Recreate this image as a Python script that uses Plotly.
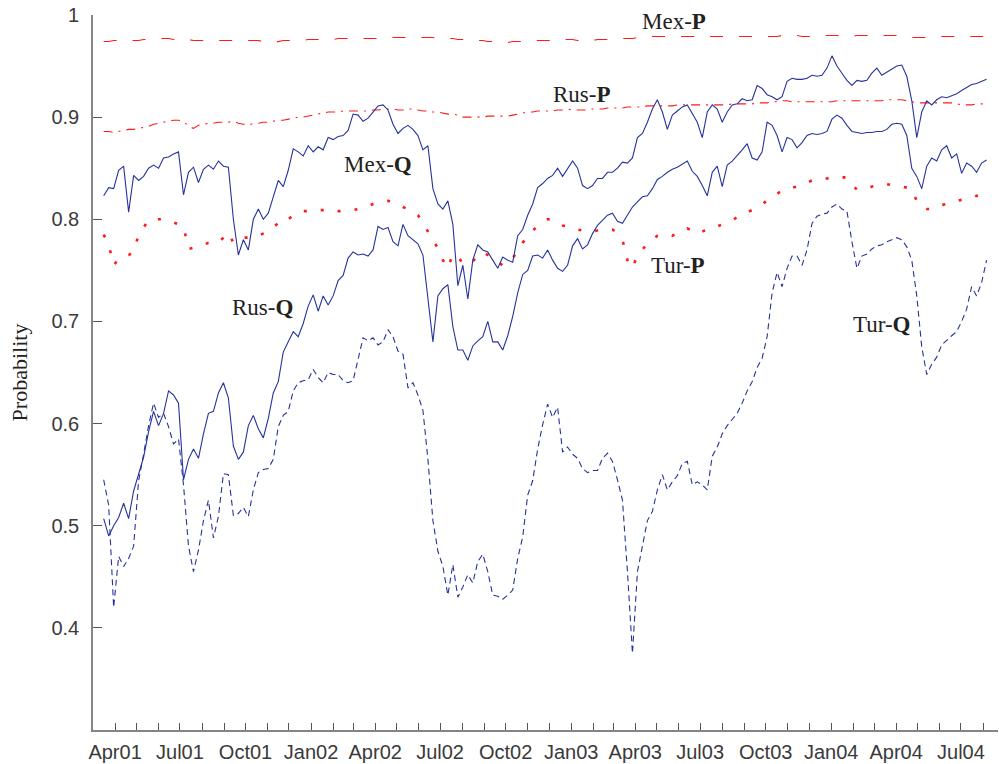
import pandas as pd
import plotly.graph_objects as go

# Weekly observation dates (Fridays), mid-March 2001 to early August 2004
dates = pd.date_range("2001-03-16", periods=178, freq="7D")

mex_q = [
    0.823, 0.831, 0.830, 0.848, 0.852, 0.807, 0.843, 0.838, 0.842, 0.850,
    0.853, 0.850, 0.860, 0.861, 0.864, 0.866, 0.824, 0.846, 0.851, 0.836,
    0.849, 0.853, 0.849, 0.857, 0.852, 0.851, 0.800, 0.765, 0.780, 0.770,
    0.800, 0.810, 0.800, 0.806, 0.822, 0.838, 0.832, 0.848, 0.869, 0.866,
    0.862, 0.872, 0.866, 0.871, 0.868, 0.880, 0.878, 0.881, 0.882, 0.887,
    0.903, 0.902, 0.896, 0.899, 0.905, 0.911, 0.912, 0.907, 0.893, 0.884,
    0.889, 0.892, 0.888, 0.882, 0.868, 0.872, 0.830, 0.815, 0.810, 0.818,
    0.795, 0.735, 0.755, 0.722, 0.760, 0.775, 0.770, 0.768, 0.760, 0.752,
    0.763, 0.760, 0.758, 0.784, 0.790, 0.804, 0.815, 0.831, 0.835, 0.840,
    0.843, 0.850, 0.842, 0.850, 0.857, 0.850, 0.833, 0.830, 0.833, 0.840,
    0.840, 0.846, 0.846, 0.850, 0.856, 0.855, 0.860, 0.880, 0.884, 0.895,
    0.908, 0.917, 0.905, 0.888, 0.902, 0.906, 0.910, 0.912, 0.903, 0.895,
    0.880, 0.905, 0.912, 0.908, 0.895, 0.905, 0.912, 0.913, 0.918, 0.916,
    0.917, 0.931, 0.928, 0.922, 0.920, 0.917, 0.920, 0.935, 0.938, 0.937,
    0.937, 0.938, 0.941, 0.940, 0.941, 0.948, 0.960, 0.950, 0.943, 0.936,
    0.931, 0.936, 0.935, 0.936, 0.943, 0.948, 0.941, 0.944, 0.947, 0.950,
    0.951, 0.940, 0.916, 0.880, 0.905, 0.916, 0.912, 0.917, 0.920, 0.919,
    0.921, 0.923, 0.926, 0.929, 0.932, 0.933, 0.935, 0.937,
]

rus_q = [
    0.507, 0.490, 0.500, 0.508, 0.522, 0.507, 0.534, 0.550, 0.567, 0.592,
    0.612, 0.598, 0.610, 0.632, 0.628, 0.620, 0.545, 0.565, 0.575, 0.566,
    0.590, 0.610, 0.612, 0.630, 0.640, 0.625, 0.578, 0.565, 0.572, 0.598,
    0.608, 0.595, 0.586, 0.605, 0.630, 0.641, 0.670, 0.680, 0.690, 0.685,
    0.698, 0.715, 0.726, 0.710, 0.725, 0.716, 0.725, 0.740, 0.745, 0.762,
    0.768, 0.765, 0.766, 0.764, 0.770, 0.793, 0.790, 0.792, 0.778, 0.774,
    0.795, 0.784, 0.780, 0.776, 0.765, 0.720, 0.680, 0.725, 0.732, 0.736,
    0.695, 0.672, 0.672, 0.662, 0.676, 0.681, 0.685, 0.700, 0.680, 0.680,
    0.672, 0.686, 0.705, 0.728, 0.746, 0.750, 0.764, 0.765, 0.762, 0.770,
    0.760, 0.752, 0.749, 0.755, 0.774, 0.781, 0.771, 0.775, 0.786, 0.794,
    0.799, 0.804, 0.806, 0.798, 0.796, 0.804, 0.812, 0.817, 0.822, 0.823,
    0.830, 0.839, 0.842, 0.846, 0.849, 0.851, 0.854, 0.857, 0.847, 0.842,
    0.833, 0.823, 0.846, 0.852, 0.832, 0.853, 0.857, 0.862, 0.868, 0.874,
    0.860, 0.858, 0.866, 0.895, 0.892, 0.882, 0.866, 0.880, 0.878, 0.870,
    0.875, 0.882, 0.884, 0.883, 0.884, 0.886, 0.898, 0.902, 0.899, 0.892,
    0.886, 0.885, 0.884, 0.885, 0.885, 0.886, 0.886, 0.888, 0.893, 0.894,
    0.893, 0.882, 0.850, 0.842, 0.830, 0.852, 0.860, 0.857, 0.868, 0.872,
    0.860, 0.864, 0.845, 0.855, 0.852, 0.846, 0.855, 0.858,
]

tur_q = [
    0.545, 0.520, 0.420, 0.470, 0.460, 0.468, 0.480, 0.544, 0.570, 0.598,
    0.620, 0.606, 0.610, 0.597, 0.580, 0.585, 0.540, 0.480, 0.455, 0.476,
    0.505, 0.525, 0.488, 0.509, 0.551, 0.550, 0.510, 0.512, 0.518, 0.509,
    0.535, 0.552, 0.555, 0.556, 0.565, 0.597, 0.608, 0.612, 0.632, 0.640,
    0.642, 0.643, 0.653, 0.645, 0.640, 0.650, 0.648, 0.648, 0.642, 0.640,
    0.642, 0.662, 0.684, 0.681, 0.684, 0.677, 0.680, 0.692, 0.685, 0.671,
    0.668, 0.635, 0.640, 0.628, 0.613, 0.565, 0.505, 0.475, 0.460, 0.432,
    0.462, 0.430, 0.440, 0.452, 0.444, 0.465, 0.472, 0.455, 0.432, 0.431,
    0.428, 0.432, 0.437, 0.468, 0.489, 0.530, 0.544, 0.575, 0.599, 0.619,
    0.606, 0.616, 0.572, 0.577, 0.570, 0.566, 0.556, 0.552, 0.554, 0.554,
    0.566, 0.571, 0.563, 0.545, 0.525, 0.455, 0.375, 0.455, 0.480, 0.505,
    0.514, 0.535, 0.550, 0.535, 0.543, 0.549, 0.561, 0.563, 0.540, 0.543,
    0.540, 0.535, 0.568, 0.577, 0.590, 0.598, 0.604, 0.610, 0.620, 0.632,
    0.641, 0.655, 0.664, 0.685, 0.728, 0.748, 0.734, 0.752, 0.764, 0.764,
    0.755, 0.770, 0.796, 0.803, 0.805, 0.806, 0.812, 0.815, 0.810, 0.808,
    0.778, 0.752, 0.764, 0.766, 0.771, 0.774, 0.775, 0.778, 0.780, 0.782,
    0.780, 0.773, 0.760, 0.725, 0.675, 0.648, 0.658, 0.665, 0.677, 0.682,
    0.686, 0.690, 0.700, 0.712, 0.734, 0.725, 0.738, 0.760,
]

mex_p = [
    0.974, 0.974, 0.975, 0.975, 0.975, 0.975, 0.975, 0.975, 0.976, 0.976,
    0.976, 0.977, 0.977, 0.977, 0.976, 0.976, 0.976, 0.976, 0.975, 0.975,
    0.975, 0.975, 0.975, 0.975, 0.975, 0.975, 0.975, 0.975, 0.975, 0.975,
    0.975, 0.975, 0.974, 0.973, 0.973, 0.974, 0.975, 0.975, 0.975, 0.975,
    0.975, 0.976, 0.976, 0.976, 0.976, 0.976, 0.976, 0.977, 0.977, 0.977,
    0.977, 0.977, 0.977, 0.977, 0.977, 0.977, 0.977, 0.978, 0.978, 0.978,
    0.978, 0.978, 0.978, 0.978, 0.978, 0.978, 0.978, 0.977, 0.977, 0.977,
    0.977, 0.976, 0.976, 0.976, 0.976, 0.975, 0.975, 0.974, 0.974, 0.973,
    0.973, 0.973, 0.974, 0.974, 0.974, 0.975, 0.975, 0.975, 0.975, 0.975,
    0.975, 0.976, 0.976, 0.976, 0.976, 0.975, 0.975, 0.975, 0.975, 0.976,
    0.976, 0.976, 0.976, 0.977, 0.977, 0.977, 0.977, 0.978, 0.978, 0.978,
    0.979, 0.979, 0.979, 0.979, 0.979, 0.979, 0.979, 0.979, 0.979, 0.979,
    0.979, 0.979, 0.979, 0.979, 0.979, 0.979, 0.979, 0.979, 0.979, 0.979,
    0.979, 0.979, 0.979, 0.979, 0.979, 0.979, 0.980, 0.980, 0.980, 0.980,
    0.979, 0.979, 0.979, 0.980, 0.980, 0.980, 0.980, 0.980, 0.979, 0.979,
    0.979, 0.980, 0.980, 0.980, 0.980, 0.980, 0.980, 0.980, 0.980, 0.980,
    0.979, 0.979, 0.978, 0.978, 0.978, 0.978, 0.979, 0.979, 0.979, 0.979,
    0.979, 0.979, 0.979, 0.979, 0.979, 0.979, 0.979, 0.979,
]

rus_p = [
    0.886, 0.886, 0.885, 0.886, 0.887, 0.888, 0.888, 0.889, 0.890, 0.891,
    0.893, 0.894, 0.895, 0.896, 0.897, 0.897, 0.896, 0.891, 0.889, 0.892,
    0.893, 0.894, 0.894, 0.895, 0.895, 0.895, 0.896, 0.894, 0.893, 0.892,
    0.894, 0.894, 0.895, 0.895, 0.896, 0.897, 0.897, 0.898, 0.899, 0.900,
    0.900, 0.901, 0.902, 0.903, 0.904, 0.905, 0.905, 0.905, 0.906, 0.906,
    0.906, 0.906, 0.906, 0.906, 0.907, 0.907, 0.908, 0.908, 0.908, 0.907,
    0.907, 0.908, 0.908, 0.907, 0.906, 0.906, 0.905, 0.905, 0.904, 0.903,
    0.903, 0.902, 0.900, 0.900, 0.900, 0.900, 0.900, 0.901, 0.901, 0.901,
    0.901, 0.901, 0.902, 0.903, 0.904, 0.905, 0.905, 0.906, 0.906, 0.906,
    0.906, 0.907, 0.907, 0.908, 0.907, 0.907, 0.907, 0.907, 0.908, 0.908,
    0.908, 0.909, 0.909, 0.909, 0.909, 0.910, 0.910, 0.910, 0.910, 0.911,
    0.911, 0.911, 0.911, 0.911, 0.911, 0.912, 0.912, 0.912, 0.912, 0.912,
    0.912, 0.912, 0.912, 0.912, 0.912, 0.912, 0.913, 0.913, 0.913, 0.913,
    0.913, 0.914, 0.914, 0.914, 0.915, 0.915, 0.916, 0.916, 0.915, 0.915,
    0.915, 0.915, 0.915, 0.915, 0.915, 0.915, 0.915, 0.916, 0.916, 0.916,
    0.916, 0.916, 0.916, 0.916, 0.916, 0.916, 0.916, 0.917, 0.917, 0.917,
    0.917, 0.916, 0.915, 0.914, 0.914, 0.914, 0.914, 0.914, 0.914, 0.914,
    0.914, 0.913, 0.912, 0.912, 0.912, 0.913, 0.913, 0.913,
]

tur_p = [
    0.785, 0.775, 0.755, 0.761, 0.764, 0.765, 0.768, 0.785, 0.792, 0.799,
    0.800, 0.800, 0.800, 0.799, 0.797, 0.795, 0.793, 0.771, 0.772, 0.773,
    0.775, 0.777, 0.777, 0.777, 0.782, 0.787, 0.777, 0.779, 0.782, 0.782,
    0.782, 0.784, 0.786, 0.788, 0.792, 0.797, 0.801, 0.800, 0.804, 0.807,
    0.808, 0.808, 0.809, 0.809, 0.809, 0.809, 0.808, 0.808, 0.808, 0.809,
    0.809, 0.810, 0.812, 0.813, 0.815, 0.816, 0.817, 0.818, 0.817, 0.815,
    0.812, 0.810, 0.807, 0.804, 0.797, 0.788, 0.779, 0.772, 0.760, 0.752,
    0.766, 0.762, 0.758, 0.762, 0.759, 0.764, 0.768, 0.765, 0.761, 0.758,
    0.755, 0.757, 0.762, 0.768, 0.777, 0.784, 0.789, 0.793, 0.797, 0.800,
    0.800, 0.797, 0.794, 0.793, 0.791, 0.790, 0.789, 0.789, 0.788, 0.789,
    0.789, 0.790, 0.790, 0.786, 0.780, 0.760, 0.752, 0.765, 0.771, 0.776,
    0.780, 0.784, 0.785, 0.785, 0.784, 0.786, 0.788, 0.791, 0.789, 0.786,
    0.788, 0.790, 0.791, 0.793, 0.795, 0.797, 0.799, 0.802, 0.805, 0.807,
    0.809, 0.811, 0.814, 0.819, 0.822, 0.825, 0.828, 0.830, 0.831, 0.832,
    0.834, 0.836, 0.838, 0.839, 0.840, 0.840, 0.841, 0.841, 0.841, 0.841,
    0.834, 0.829, 0.830, 0.831, 0.832, 0.833, 0.833, 0.834, 0.834, 0.833,
    0.832, 0.831, 0.830, 0.818, 0.812, 0.810, 0.810, 0.812, 0.814, 0.815,
    0.817, 0.818, 0.819, 0.820, 0.821, 0.823, 0.823, 0.822,
]

# Monthly tick marks; labels only at quarter starts
tick_months = pd.date_range("2001-03-01", "2004-08-01", freq="MS")
tick_text = [d.strftime("%b%y") if d.month in (1, 4, 7, 10) else "" for d in tick_months]

y_ticks = [0.4, 0.5, 0.6, 0.7, 0.8, 0.9, 1.0]
y_text = ["0.4", "0.5", "0.6", "0.7", "0.8", "0.9", "1"]

BLUE = "#27339c"
RED = "#ff1a1a"

fig = go.Figure()
fig.add_trace(go.Scatter(x=dates, y=mex_p, mode="lines",
                         line=dict(color=RED, width=1.1, dash="13px,16px")))
fig.add_trace(go.Scatter(x=dates, y=rus_p, mode="lines",
                         line=dict(color=RED, width=1.1, dash="9px,6px,2px,6px")))
fig.add_trace(go.Scatter(x=dates, y=tur_p, mode="lines",
                         line=dict(color=RED, width=2.6, dash="3px,14px")))
fig.add_trace(go.Scatter(x=dates, y=mex_q, mode="lines",
                         line=dict(color=BLUE, width=1.1)))
fig.add_trace(go.Scatter(x=dates, y=rus_q, mode="lines",
                         line=dict(color=BLUE, width=1.1)))
fig.add_trace(go.Scatter(x=dates, y=tur_q, mode="lines",
                         line=dict(color=BLUE, width=1.1, dash="6px,4px")))

labels = [
    ("2003-05-26", 0.9935, "Mex-<b>P</b>"),
    ("2003-01-16", 0.9224, "Rus-<b>P</b>"),
    ("2002-04-05", 0.8533, "Mex-<b>Q</b>"),
    ("2001-10-25", 0.7141, "Rus-<b>Q</b>"),
    ("2003-05-31", 0.7550, "Tur-<b>P</b>"),
    ("2004-03-12", 0.6966, "Tur-<b>Q</b>"),
]
for x, y, t in labels:
    fig.add_annotation(x=x, y=y, text=t, showarrow=False,
                       xanchor="center", yanchor="middle",
                       font=dict(family="Liberation Serif", size=23, color="#222222"))

AXIS_GREY = "#858585"
fig.update_layout(
    width=999, height=764,
    margin=dict(l=93, r=1, t=15, b=30),
    paper_bgcolor="white", plot_bgcolor="white",
    showlegend=False,
    font=dict(family="Liberation Sans", color="#3a3a3a"),
)
fig.update_xaxes(
    type="date",
    range=["2001-03-01", "2004-08-22"],
    tickvals=tick_months, ticktext=tick_text,
    ticks="inside", ticklen=7, tickwidth=1, tickcolor="#555555",
    showline=True, linecolor=AXIS_GREY, linewidth=1.6,
    showgrid=False, zeroline=False,
    tickfont=dict(family="Liberation Sans", size=20, color="#3a3a3a"),
    ticklabelstandoff=3,
)
fig.update_yaxes(
    range=[0.3, 1.0],
    tickvals=y_ticks, ticktext=y_text,
    ticks="inside", ticklen=9, tickwidth=1, tickcolor="#555555",
    showline=True, linecolor=AXIS_GREY, linewidth=1.6,
    showgrid=False, zeroline=False,
    tickfont=dict(family="Liberation Sans", size=20, color="#3a3a3a"),
    ticklabelstandoff=8,
    title=dict(text="Probability", standoff=18,
               font=dict(family="Liberation Serif", size=22, color="#222222")),
)

fig.write_html("out.html")
